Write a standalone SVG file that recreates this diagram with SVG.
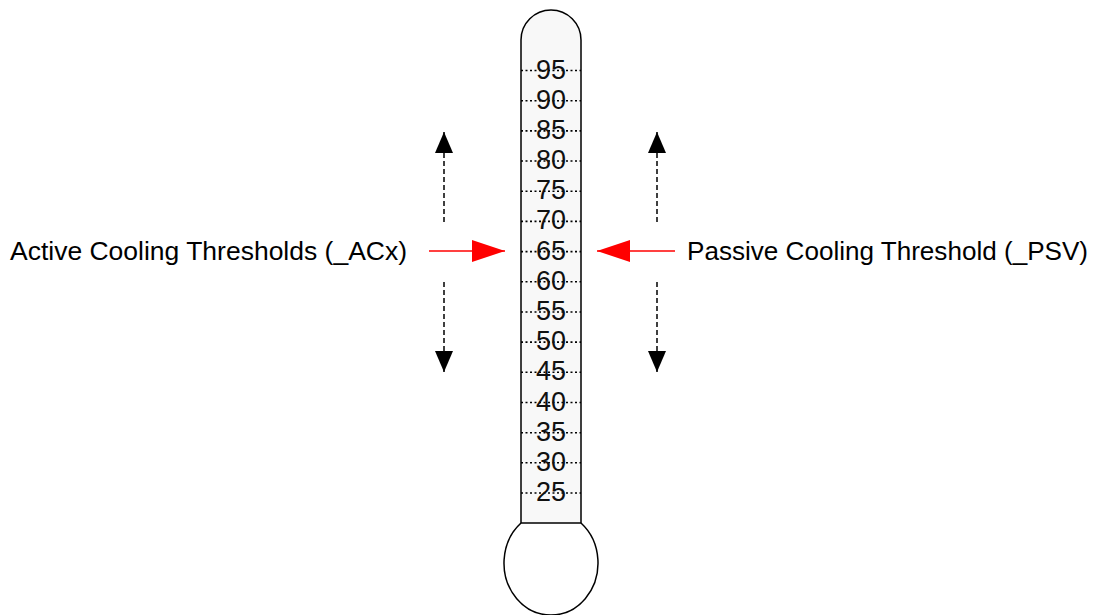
<svg xmlns="http://www.w3.org/2000/svg" width="1099" height="615" viewBox="0 0 1099 615">
<style>
.lbl{font-family:"Liberation Sans",Arial,sans-serif;font-size:26px;fill:#000}
.num{font-family:"Liberation Sans",Arial,sans-serif;font-size:27px;fill:#111;text-anchor:middle}
.tick{stroke:#000;stroke-width:1.6;stroke-dasharray:2 2.5}
.dash{stroke:#000;stroke-width:1.5;stroke-dasharray:5 3;fill:none}
.red{stroke:#ff0000;stroke-width:1.5;fill:none}
.outline{stroke:#000;stroke-width:1.5}
</style>
<defs>
<marker id="blk" markerUnits="userSpaceOnUse" markerWidth="21" markerHeight="18" refX="21" refY="9" orient="auto">
<path d="M0,0 L21,9 L0,18 z" fill="#000"/>
</marker>
<marker id="rd" markerUnits="userSpaceOnUse" markerWidth="33" markerHeight="22" refX="33" refY="11" orient="auto">
<path d="M0,0 L33,11 L0,22 z" fill="#ff0000"/>
</marker>
</defs>
<rect width="1099" height="615" fill="#fff"/>
<g id="thermometer">
<path class="outline" fill="#fff" d="M521,523 A47,52 0 1 0 581,523"/>
<path class="outline" fill="#f8f8f8" d="M521,523 L521,40 A30,30 0 0 1 581,40 L581,523 Z"/>
<g id="scale">
<line class="tick" x1="521" y1="70.5" x2="581" y2="70.5"/><text class="num" x="551" y="78.5">95</text>
<line class="tick" x1="521" y1="100.7" x2="581" y2="100.7"/><text class="num" x="551" y="108.7">90</text>
<line class="tick" x1="521" y1="130.9" x2="581" y2="130.9"/><text class="num" x="551" y="138.9">85</text>
<line class="tick" x1="521" y1="161" x2="581" y2="161"/><text class="num" x="551" y="169">80</text>
<line class="tick" x1="521" y1="191.2" x2="581" y2="191.2"/><text class="num" x="551" y="199.2">75</text>
<line class="tick" x1="521" y1="221.4" x2="581" y2="221.4"/><text class="num" x="551" y="229.4">70</text>
<line class="tick" x1="521" y1="251.6" x2="581" y2="251.6"/><text class="num" x="551" y="259.6">65</text>
<line class="tick" x1="521" y1="281.8" x2="581" y2="281.8"/><text class="num" x="551" y="289.8">60</text>
<line class="tick" x1="521" y1="312" x2="581" y2="312"/><text class="num" x="551" y="320">55</text>
<line class="tick" x1="521" y1="342.1" x2="581" y2="342.1"/><text class="num" x="551" y="350.1">50</text>
<line class="tick" x1="521" y1="372.3" x2="581" y2="372.3"/><text class="num" x="551" y="380.3">45</text>
<line class="tick" x1="521" y1="402.5" x2="581" y2="402.5"/><text class="num" x="551" y="410.5">40</text>
<line class="tick" x1="521" y1="432.7" x2="581" y2="432.7"/><text class="num" x="551" y="440.7">35</text>
<line class="tick" x1="521" y1="462.8" x2="581" y2="462.8"/><text class="num" x="551" y="470.8">30</text>
<line class="tick" x1="521" y1="493" x2="581" y2="493"/><text class="num" x="551" y="501">25</text>
</g>
</g>
<g id="label-active">
<text class="lbl" x="10" y="260" textLength="397" lengthAdjust="spacingAndGlyphs">Active Cooling Thresholds (_ACx)</text>
</g>
<g id="label-passive">
<text class="lbl" x="687" y="260" textLength="401" lengthAdjust="spacingAndGlyphs">Passive Cooling Threshold (_PSV)</text>
</g>
<g id="connectors">
<line class="red" x1="429" y1="251" x2="505" y2="251" marker-end="url(#rd)"/>
<line class="red" x1="675" y1="251" x2="597" y2="251" marker-end="url(#rd)"/>
<line class="dash" x1="444" y1="222" x2="444" y2="132" marker-end="url(#blk)"/>
<line class="dash" x1="444" y1="282" x2="444" y2="372" marker-end="url(#blk)"/>
<line class="dash" x1="657" y1="222" x2="657" y2="132" marker-end="url(#blk)"/>
<line class="dash" x1="657" y1="282" x2="657" y2="372" marker-end="url(#blk)"/>
</g>
</svg>
